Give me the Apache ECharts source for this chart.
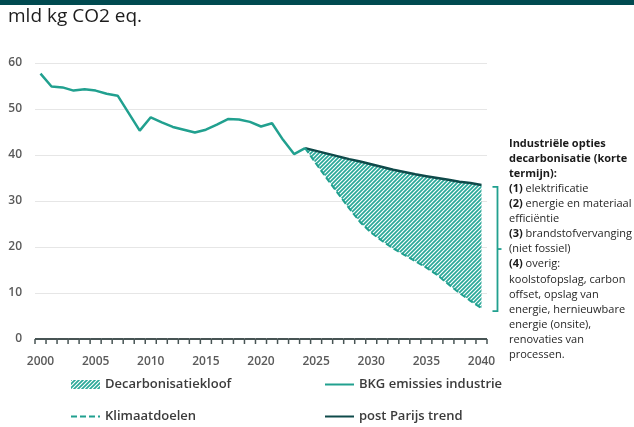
<!DOCTYPE html>
<html>
<head>
<meta charset="utf-8">
<script src="https://cdn.jsdelivr.net/npm/echarts@6/dist/echarts.min.js"></script>
<style>
  html, body { margin: 0; padding: 0; background: #ffffff; }
  #chart { width: 634px; height: 427px; }
</style>
</head>
<body>
<div id="chart"></div>
<script>
// Years on the horizontal axis
const years = ['2000','2001','2002','2003','2004','2005','2006','2007','2008','2009',
  '2010','2011','2012','2013','2014','2015','2016','2017','2018','2019',
  '2020','2021','2022','2023','2024','2025','2026','2027','2028','2029',
  '2030','2031','2032','2033','2034','2035','2036','2037','2038','2039','2040'];

// Greenhouse gas emissions of industry, 2000–2024 (mld kg CO2 eq.)
const bkgEmissions = [57.7, 54.9, 54.7, 54.0, 54.3, 54.0, 53.3, 52.9, 49.1, 45.3,
  48.2, 47.1, 46.1, 45.5, 44.9, 45.5, 46.6, 47.8, 47.7, 47.2,
  46.2, 46.9, 43.3, 40.2, 41.5];

// Post-Paris trend, 2024–2040
const parisTrend = [41.5, 40.9, 40.3, 39.7, 39.1, 38.6, 38.0, 37.4, 36.8, 36.3,
  35.8, 35.4, 35.0, 34.6, 34.2, 33.9, 33.5];

// Climate targets, 2024–2040
const climateTargets = [41.5, 38.1, 34.8, 31.6, 28.4, 25.4, 23.1, 21.3, 19.7, 18.3,
  16.9, 15.5, 13.9, 11.9, 10.0, 8.3, 6.7];

const yTicks = { min: 0, max: 60, interval: 10 };

const TEAL = '#21a08f';
const DARK = '#0f4a4a';
const AXIS = '#475454';
const FONT = 'Open Sans';

// Pad a series that starts at a given year so it lines up with the categories
function alignFrom(startYear, values) {
  const offset = years.indexOf(String(startYear));
  const out = years.map(() => null);
  values.forEach((v, i) => { out[offset + i] = v; });
  return out;
}

const futureStart = 2024;
const bkgSeries = alignFrom(2000, bkgEmissions);
const parisSeries = alignFrom(futureStart, parisTrend);
const targetSeries = alignFrom(futureStart, climateTargets);
const gapSeries = alignFrom(futureStart, parisTrend.map((v, i) => +(v - climateTargets[i]).toFixed(2)));

// Bracket marking the remaining gap in the final year
const bracketData = [[years.length - 1, parisTrend[parisTrend.length - 1], climateTargets[climateTargets.length - 1]]];

// One entry per year for the ruler-style baseline (line plus a tick per year band)
const rulerData = years.map((y, i) => [i, yTicks.min]);

// Diagonal hatch used for the decarbonisation gap
function makeHatch() {
  const c = document.createElement('canvas');
  c.width = 4; c.height = 4;
  const g = c.getContext('2d');
  g.fillStyle = '#ffffff';
  g.fillRect(0, 0, 4, 4);
  g.strokeStyle = '#2aa898';
  g.lineWidth = 1.7;
  g.beginPath();
  g.moveTo(0, 4); g.lineTo(4, 0);
  g.moveTo(-1, 1); g.lineTo(1, -1);
  g.moveTo(3, 5); g.lineTo(5, 3);
  g.stroke();
  return c;
}
const hatch = { image: makeHatch(), repeat: 'repeat' };

const noteText = [
  '{b|Industriële opties}',
  '{b|decarbonisatie (korte}',
  '{b|termijn):}',
  '{b|(1)} elektrificatie',
  '{b|(2)} energie en materiaal',
  'efficiëntie',
  '{b|(3)} brandstofvervanging',
  '(niet fossiel)',
  '{b|(4)} overig:',
  'koolstofopslag, carbon',
  'offset, opslag van',
  'energie, hernieuwbare',
  'energie (onsite),',
  'renovaties van',
  'processen.'
].join('\n');

const legendText = { fontFamily: FONT, fontSize: 13, fontWeight: 600, color: '#3b3b3b' };
const noMarker = { opacity: 0 };

function renderBracket(params, api) {
  const top = api.coord([api.value(0), api.value(1)]);
  const bot = api.coord([api.value(0), api.value(2)]);
  const bx = top[0] + 16;
  const y1 = top[1] + 2;
  const y2 = bot[1] + 3;
  const ym = (y1 + y2) / 2;
  return {
    type: 'group',
    children: [
      {
        type: 'polyline',
        shape: { points: [[bx - 5, y1], [bx, y1], [bx, y2], [bx - 5, y2]] },
        style: { stroke: TEAL, lineWidth: 1.8, fill: 'none' }
      },
      {
        type: 'line',
        shape: { x1: bx, y1: ym, x2: bx + 4, y2: ym },
        style: { stroke: TEAL, lineWidth: 1.8 }
      }
    ]
  };
}

// Baseline segment and boundary tick for each year band
function renderRuler(params, api) {
  const p = api.coord([api.value(0), api.value(1)]);
  const bw = api.size([1, 0])[0];
  const x0 = p[0] - bw / 2;
  const y = Math.round(p[1]);
  const children = [
    { type: 'line', shape: { x1: x0, y1: y, x2: x0 + bw, y2: y }, style: { stroke: AXIS, lineWidth: 2, fill: 'none' } },
    { type: 'line', shape: { x1: x0, y1: y, x2: x0, y2: y + 5 }, style: { stroke: AXIS, lineWidth: 1.5, fill: 'none' } }
  ];
  if (params.dataIndex === years.length - 1) {
    children.push({ type: 'line', shape: { x1: x0 + bw, y1: y, x2: x0 + bw, y2: y + 5 }, style: { stroke: AXIS, lineWidth: 1.5, fill: 'none' } });
  }
  return { type: 'group', children };
}

const chart = echarts.init(document.getElementById('chart'));

const option = {
  backgroundColor: '#ffffff',
  animation: false,
  title: {
    text: 'mld kg CO2 eq.',
    left: 8, top: 7, padding: 0,
    textStyle: { fontFamily: FONT, fontSize: 19, fontWeight: 'normal', color: '#1c1c1c' }
  },
  grid: { left: 35, right: 147, top: 63, bottom: 88 },
  legend: [
    {
      orient: 'vertical', left: 70, top: 378, itemGap: 19, padding: 0,
      itemWidth: 29, itemHeight: 9,
      textStyle: legendText,
      data: [
        { name: 'Decarbonisatiekloof', icon: 'rect', itemStyle: { color: hatch } },
        { name: 'Klimaatdoelen', itemStyle: noMarker }
      ]
    },
    {
      orient: 'vertical', left: 324, top: 378, itemGap: 19, padding: 0,
      itemWidth: 29, itemHeight: 9,
      textStyle: legendText,
      data: [
        { name: 'BKG emissies industrie', itemStyle: noMarker },
        { name: 'post Parijs trend', itemStyle: noMarker }
      ]
    }
  ],
  xAxis: {
    type: 'category',
    data: years,
    boundaryGap: true,
    axisLine: { show: false },
    axisTick: { show: false },
    axisLabel: {
      interval: 4, margin: 17,
      fontFamily: FONT, fontSize: 12, fontWeight: 600, color: '#5a5a5a'
    },
    splitLine: { show: false }
  },
  yAxis: {
    type: 'value',
    min: yTicks.min, max: yTicks.max, interval: yTicks.interval,
    axisLine: { show: false },
    axisTick: { show: false },
    axisLabel: { margin: 13, fontFamily: FONT, fontSize: 12, fontWeight: 600, color: '#5a5a5a' },
    splitLine: { lineStyle: { color: '#e6e6e6', width: 1 } }
  },
  graphic: [
    {
      type: 'rect', left: 0, top: 0, silent: true,
      shape: { x: 0, y: 0, width: 634, height: 5 },
      style: { fill: '#004a50' }
    },
    {
      type: 'text', silent: true,
      x: 509, y: 136,
      style: {
        text: noteText,
        fontFamily: FONT, fontSize: 11, lineHeight: 15.1,
        fill: '#262626',
        rich: {
          b: { fontFamily: FONT, fontSize: 11, fontWeight: 'bold', lineHeight: 15.1, fill: '#1a1a1a' }
        }
      }
    }
  ],
  series: [
    {
      name: 'gapBase', type: 'line', stack: 'gap', data: targetSeries,
      symbol: 'none', silent: true, lineStyle: { width: 0, opacity: 0 }, z: 1
    },
    {
      name: 'Decarbonisatiekloof', type: 'line', stack: 'gap', data: gapSeries,
      symbol: 'none', silent: true,
      itemStyle: { color: TEAL },
      lineStyle: { width: 0, opacity: 0 },
      areaStyle: { color: hatch, opacity: 1 },
      z: 1
    },
    {
      name: 'BKG emissies industrie', type: 'line', data: bkgSeries,
      symbol: 'none', itemStyle: { color: TEAL },
      lineStyle: { color: TEAL, width: 2.5 }, z: 3
    },
    {
      name: 'post Parijs trend', type: 'line', data: parisSeries,
      symbol: 'none', itemStyle: { color: DARK },
      lineStyle: { color: DARK, width: 2.5 }, z: 4
    },
    {
      name: 'Klimaatdoelen', type: 'line', data: targetSeries,
      symbol: 'none', itemStyle: { color: TEAL },
      lineStyle: { color: TEAL, width: 2, type: [6, 3] }, z: 4
    },
    {
      name: 'bracket', type: 'custom', data: bracketData,
      encode: { x: 0, y: [1, 2] },
      renderItem: renderBracket,
      clip: false, silent: true, z: 5
    },
    {
      name: 'xRuler', type: 'custom', data: rulerData,
      encode: { x: 0, y: 1 },
      renderItem: renderRuler,
      clip: false, silent: true, z: 6
    }
  ]
};

chart.setOption(option);
</script>
</body>
</html>
